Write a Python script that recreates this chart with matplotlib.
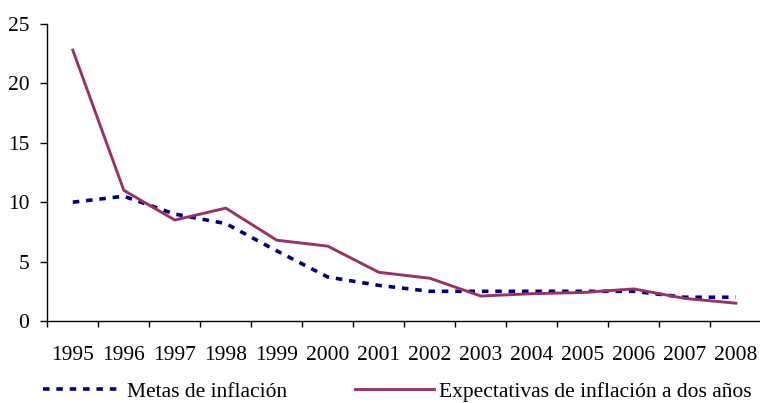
import matplotlib
matplotlib.use("Agg")
import matplotlib.pyplot as plt
import numpy as np

years = ["1995", "1996", "1997", "1998", "1999", "2000", "2001", "2002",
         "2003", "2004", "2005", "2006", "2007", "2008"]
metas = [10.0, 10.5, 9.0, 8.2, 5.9, 3.7, 3.0, 2.5, 2.5, 2.5, 2.5, 2.5, 2.0, 2.0]
expectativas = [22.8, 11.0, 8.5, 9.5, 6.8, 6.3, 4.1, 3.6, 2.1, 2.3, 2.4, 2.7, 1.9, 1.5]
yticks = [0, 5, 10, 15, 20, 25]

plt.rcParams['font.family'] = ['Liberation Serif', 'DejaVu Serif']
FS = 15.5
W, H = 760, 403
fig = plt.figure(figsize=(W / 100, H / 100), dpi=100)
ax = fig.add_axes([47.3 / W, (H - 321) / H, 714 / W, 297 / H])

x = np.arange(len(years))
l1, = ax.plot(x, metas, color="#000080", lw=2.6, linestyle=(0, (1.8, 1.9)),
              label="Metas de inflación")
l2, = ax.plot(x, expectativas, color="#993366", lw=2.1,
              label="Expectativas de inflación a dos años")

ax.set_xlim(-0.5, len(years) - 0.5)
ax.set_ylim(0, 25)
ax.set_yticks(yticks)
ax.set_yticklabels([str(v) for v in yticks], fontsize=FS)
ax.set_xticks(x)
ax.set_xticklabels(years, fontsize=FS)
ax.set_xticks(np.arange(-0.5, len(years), 1.0), minor=True)
ax.tick_params(axis='x', which='major', length=0, pad=18)
ax.tick_params(axis='x', which='minor', length=4, width=1, direction='out')
ax.tick_params(axis='y', length=5, width=1, direction='out', pad=8)
for s in ['top', 'right']:
    ax.spines[s].set_visible(False)
for s in ['left', 'bottom']:
    ax.spines[s].set_linewidth(1)

fig.legend(handles=[l1, l2], loc='center left', bbox_to_anchor=(43 / W, 1 - 391.7 / H),
           ncol=2, frameon=False, fontsize=FS, handlelength=3.67, handletextpad=0.22,
           columnspacing=3.16, borderpad=0, borderaxespad=0)

fig.savefig("out.png", dpi=100)
